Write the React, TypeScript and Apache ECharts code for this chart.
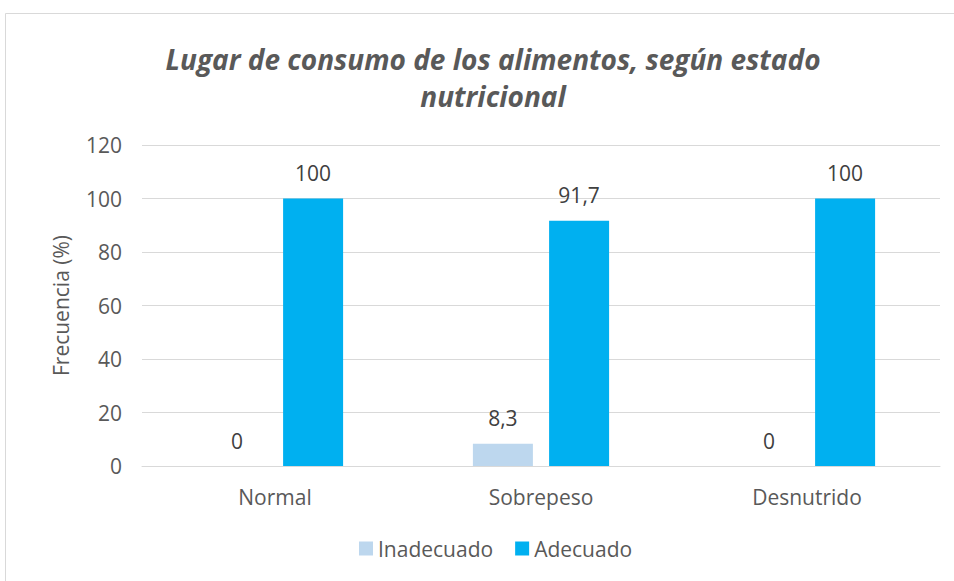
import React, { useEffect, useRef } from "react";
import * as echarts from "echarts";

const categories = ["Normal", "Sobrepeso", "Desnutrido"];
const inadecuado = [0, 8.3, 0];
const adecuado = [100, 91.7, 100];
const yTicks = { min: 0, max: 120, interval: 20 };

export default function App() {
  const ref = useRef<HTMLDivElement>(null);
  useEffect(() => {
    if (!ref.current) return;
    const chart = echarts.init(ref.current, null, { renderer: "svg" });
    const fmt = (p: any) => String(p.value).replace(".", ",");
    const labelStyle = {
      show: true,
      position: "top",
      distance: 15,
      color: "#404040",
      fontSize: 21,
      fontFamily: "Open Sans",
      formatter: fmt,
    };
    chart.setOption({
      animation: false,
      backgroundColor: "#ffffff",
      title: {
        text: "Lugar de consumo de los alimentos, según estado\nnutricional",
        left: 488,
        textAlign: "center",
        top: 35,
        textStyle: {
          fontFamily: "Open Sans",
          fontStyle: "italic",
          fontWeight: "bold",
          fontSize: 28,
          color: "#595959",
          lineHeight: 37,
        },
      },
      graphic: [
        {
          type: "rect",
          shape: { x: 5.5, y: 13.5, width: 1000, height: 700 },
          style: { fill: "none", stroke: "#d9d9d9", lineWidth: 1 },
          silent: true,
        },
      ],
      legend: {
        bottom: 17,
        left: 354,
        itemWidth: 14,
        itemHeight: 14,
        itemGap: 22,
        icon: "rect",
        textStyle: { color: "#595959", fontSize: 21, fontFamily: "Open Sans" },
        data: ["Inadecuado", "Adecuado"],
      },
      grid: { left: 142, right: 14, top: 145, bottom: 115, containLabel: false },
      xAxis: {
        type: "category",
        data: categories,
        axisLine: { lineStyle: { color: "#d9d9d9", width: 1 } },
        axisTick: { show: false },
        axisLabel: { color: "#595959", fontSize: 21, fontFamily: "Open Sans", margin: 20 },
      },
      yAxis: {
        type: "value",
        min: yTicks.min,
        max: yTicks.max,
        interval: yTicks.interval,
        name: "Frecuencia (%)",
        nameLocation: "middle",
        nameGap: 71,
        nameTextStyle: { color: "#595959", fontSize: 21, fontFamily: "Open Sans" },
        axisLine: { show: false },
        axisTick: { show: false },
        axisLabel: { color: "#595959", fontSize: 21, fontFamily: "Open Sans", margin: 20 },
        splitLine: { lineStyle: { color: "#d9d9d9", width: 1 } },
      },
      series: [
        {
          name: "Inadecuado",
          type: "bar",
          data: inadecuado,
          barWidth: 60,
          barGap: "27%",
          itemStyle: { color: "#BDD7EE" },
          label: labelStyle,
        },
        {
          name: "Adecuado",
          type: "bar",
          data: adecuado,
          barWidth: 60,
          barGap: "27%",
          itemStyle: { color: "#00B0F0" },
          label: labelStyle,
        },
      ],
    });
    return () => chart.dispose();
  }, []);
  return (
    <div
      ref={ref}
      style={{ position: "fixed", left: 0, top: 0, width: 954, height: 581 }}
    />
  );
}
